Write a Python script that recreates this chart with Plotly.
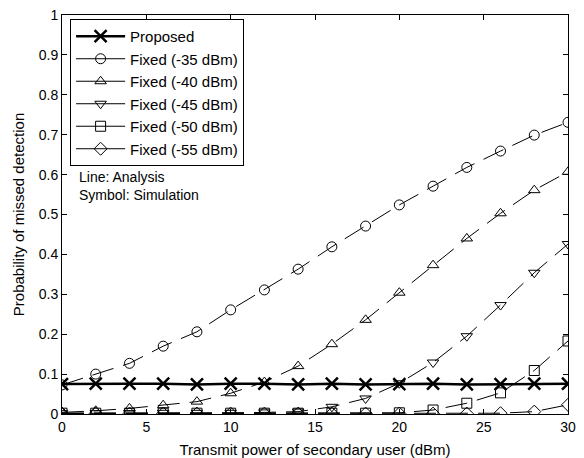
import plotly.graph_objects as go

x_power = [0, 2, 4, 6, 8, 10, 12, 14, 16, 18, 20, 22, 24, 26, 28, 30]

proposed = [0.075, 0.076, 0.076, 0.076, 0.074, 0.076, 0.076, 0.074, 0.076, 0.074, 0.075, 0.076, 0.074, 0.075, 0.076, 0.076]
fixed_35 = [0.073, 0.100, 0.127, 0.170, 0.206, 0.261, 0.311, 0.363, 0.419, 0.471, 0.524, 0.571, 0.618, 0.659, 0.699, 0.731]
fixed_40 = [0.004, 0.008, 0.014, 0.022, 0.031, 0.052, 0.080, 0.120, 0.175, 0.236, 0.304, 0.373, 0.440, 0.503, 0.561, 0.607]
fixed_45 = [0.002, 0.002, 0.002, 0.003, 0.003, 0.003, 0.004, 0.006, 0.018, 0.039, 0.077, 0.129, 0.195, 0.273, 0.354, 0.426]
fixed_50 = [0.002, 0.002, 0.002, 0.002, 0.002, 0.002, 0.002, 0.002, 0.002, 0.002, 0.003, 0.010, 0.027, 0.053, 0.109, 0.183]
fixed_55 = [0.001, 0.001, 0.001, 0.001, 0.001, 0.001, 0.001, 0.001, 0.001, 0.001, 0.001, 0.001, 0.001, 0.002, 0.006, 0.023]

series = [
    ("Proposed", proposed, "x-thin", "solid", 2.5),
    ("Fixed (-35 dBm)", fixed_35, "circle-open", "22px,10px", 1),
    ("Fixed (-40 dBm)", fixed_40, "triangle-up-open", "22px,10px", 1),
    ("Fixed (-45 dBm)", fixed_45, "triangle-down-open", "22px,10px", 1),
    ("Fixed (-50 dBm)", fixed_50, "square-open", "22px,10px", 1),
    ("Fixed (-55 dBm)", fixed_55, "diamond-open", "22px,10px", 1),
]

fig = go.Figure()
for i, (name, vals, sym, dash, lw) in enumerate(series):
    is_prop = name == "Proposed"
    mk = dict(symbol=sym, size=12 if is_prop else 10, color="black",
              line=dict(color="black", width=2.5 if is_prop else 1))
    # data trace
    fig.add_trace(go.Scatter(
        x=x_power, y=vals, name=name, mode="lines+markers", showlegend=False,
        line=dict(color="black", width=lw, dash=dash), marker=mk,
    ))
    # legend entry (solid line, as in the reference legend)
    fig.add_trace(go.Scatter(
        x=[None], y=[None], name=name, mode="lines+markers", legendgroup=f"g{i}",
        line=dict(color="black", width=lw), marker=mk,
    ))

font = "Liberation Sans, Arial, sans-serif"
axis_common = dict(showline=True, linecolor="black", linewidth=1, mirror="ticks",
                   ticks="inside", ticklen=5, tickcolor="black", showgrid=False,
                   zeroline=False, automargin=False, ticklabeloverflow="allow",
                   tickfont=dict(family=font, size=14, color="black"))

fig.update_layout(
    width=576, height=450,
    margin=dict(l=54, r=16, t=7, b=44, autoexpand=False),
    paper_bgcolor="white", plot_bgcolor="white",
    font=dict(family=font, size=14, color="black"),
    xaxis=dict(range=[0, 30], tickvals=[0, 5, 10, 15, 20, 25, 30],
               title=dict(text="Transmit power of secondary user (dBm)", standoff=13,
                          font=dict(family=font, size=15)), **axis_common),
    yaxis=dict(range=[0, 1], tickvals=[i / 10 for i in range(11)],
               ticktext=["0", "0.1", "0.2", "0.3", "0.4", "0.5", "0.6", "0.7", "0.8", "0.9", "1"],
               title=dict(text="Probability of missed detection", standoff=10,
                          font=dict(family=font, size=15)), **axis_common),
    legend=dict(x=0.016, y=0.99, xanchor="left", yanchor="top",
                bgcolor="white", bordercolor="black", borderwidth=1,
                font=dict(family=font, size=15), tracegroupgap=0,
                itemwidth=49),
    showlegend=True,
)

fig.add_annotation(x=0.030, y=0.594, xref="paper", yref="paper", xanchor="left", yanchor="middle",
                   text="Line: Analysis", showarrow=False, font=dict(family=font, size=14))
fig.add_annotation(x=0.030, y=0.549, xref="paper", yref="paper", xanchor="left", yanchor="middle",
                   text="Symbol: Simulation", showarrow=False, font=dict(family=font, size=14))

fig.write_html("out.html")
